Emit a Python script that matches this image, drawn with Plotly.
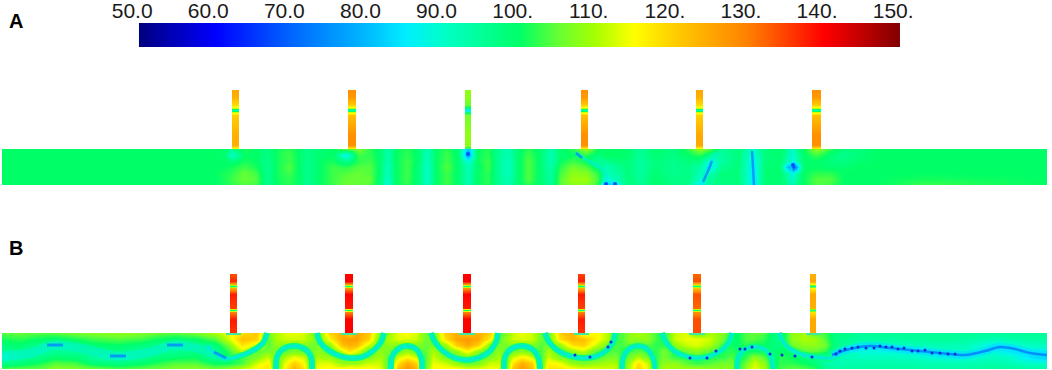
import numpy as np
import plotly.graph_objects as go

W, H = 1052, 370
ROWS = [36, 30, 24, 18, 12, 6, 0]

A_X = [2,215,224,232,244,256,267,278,289,298,307,320,333,346,358,370,380,387,396,407,418,427,436,447,458,468,477,488,497,508,518,528,540,550,560,573,586,598,606,616,628,640,655,672,688,700,710,722,738,753,765,780,793,803,816,830,843,858,880,925,1047]
A_COLS = [
[100,100,100,100,100,100,100],[100,100,100,100,100,100,100],[100,99,100,100,101,101,101],[96,90,98,101,102,103,102],
[101,100,101,103,105,105,104],[100,100,100,101,103,104,103],[97,97,96,96,96,96,96],[101,101,101,101,101,101,100],
[102,103,103,104,103,102,102],[100,100,100,100,100,100,100],[96,97,96,96,96,96,95],[99,99,100,100,100,100,100],
[100,100,101,103,103,103,103],[104,86,96,102,104,105,105],[106,103,102,104,105,105,105],[102,102,103,104,104,105,104],
[99,99,99,99,99,98,98],[93,93,92,91,91,90,88],[100,100,100,100,100,100,100],[102,102,103,103,103,103,102],
[99,99,99,98,98,98,98],[92,91,91,90,90,90,91],[100,100,100,100,100,100,100],[102,103,103,104,103,103,103],
[98,99,99,99,99,99,99],[80,76,88,92,92,92,92],[100,100,100,99,100,100,100],[102,102,103,103,102,102,102],
[96,96,96,96,96,96,96],[92,92,91,91,91,92,92],[99,99,99,99,99,99,99],[102,103,104,104,104,104,102],
[99,99,99,99,99,99,99],[93,92,92,93,94,94,95],[99,99,100,102,103,104,104],[102,100,103,106,108,109,108],
[108,102,100,104,107,109,107],[100,98,94,98,102,103,102],[100,100,96,92,92,88,78],[100,100,98,95,94,92,86],
[99,99,98,98,98,98,98],[95,95,94,94,94,95,95],[99,99,98,98,99,99,100],[97,97,96,96,96,97,97],
[102,100,98,97,97,97,96],[108,102,97,93,92,90,84],[104,96,88,86,92,95,96],[95,94,94,96,98,98,97],
[98,98,98,98,98,98,98],[90,88,86,85,85,85,85],[98,98,98,99,99,99,99],[100,99,99,99,99,99,99],
[92,90,88,66,88,92,94],[100,99,99,99,100,100,100],[108,103,100,100,102,104,104],[102,99,98,99,102,104,103],
[98,96,97,99,100,100,100],[98,98,99,100,100,100,100],[100,100,100,100,100,100,100],[100,100,100,100,100,101,103],
[100,100,100,100,100,100,100],
]

B_X = [2,20,40,55,75,95,118,140,160,175,195,215,228,242,256,268,276,285,294,303,312,317,330,342,349,356,368,380,388,398,407,416,425,433,445,456,467,478,490,499,505,513,522,532,541,548,560,572,583,596,608,616,622,630,638,647,656,663,675,687,697,710,722,732,738,746,754,764,773,780,792,805,815,825,835,860,900,940,965,993,1010,1030,1047]
B_COLS = [
[104,101,98,95,90,96,104],[105,102,99,96,94,98,105],[104,100,96,94,96,101,105],[104,99,92,95,99,104,108],
[106,101,96,95,98,103,107],[107,103,99,96,94,98,106],[108,104,100,97,92,97,104],[107,103,98,95,95,99,105],
[105,100,96,95,98,102,106],[104,99,92,95,99,104,107],[106,100,96,97,100,104,108],[110,104,98,95,94,100,106],
[114,112,106,102,100,100,108],[118,122,118,112,103,103,112],[121,120,112,104,106,112,116],[106,104,104,106,112,116,118],
[110,110,108,106,104,103,103],[113,112,107,104,110,114,116],[114,112,106,106,114,120,124],[113,112,107,104,112,116,118],
[108,108,106,105,104,103,104],[104,104,106,108,110,113,115],[120,116,108,104,108,113,116],[124,125,122,112,104,108,116],
[118,126,124,118,106,108,118],[125,126,123,114,104,108,117],[122,120,112,104,106,112,116],[106,104,106,108,110,112,114],
[108,110,108,106,104,103,103],[114,113,107,105,112,118,122],[115,113,106,108,116,124,128],[113,112,107,105,112,120,124],
[106,106,105,104,103,103,104],[104,104,106,110,112,114,116],[120,118,108,104,106,112,116],[124,125,120,108,104,108,116],
[120,127,125,116,106,104,114],[124,125,120,108,104,106,114],[120,116,106,104,106,112,115],[104,104,106,108,110,112,114],
[106,108,106,105,104,103,103],[112,112,107,105,112,118,122],[114,113,106,107,116,124,127],[112,112,107,105,112,120,122],
[105,105,104,103,103,103,104],[104,104,106,110,112,116,118],[120,118,108,104,106,114,118],[124,123,118,108,103,108,116],
[112,122,120,112,104,106,114],[116,116,112,104,103,108,114],[110,110,105,103,106,110,112],[102,102,103,104,106,110,112],
[104,104,103,102,102,102,103],[108,108,105,103,106,110,112],[110,108,103,104,110,118,120],[108,108,104,103,106,112,114],
[103,103,102,102,102,102,104],[100,100,102,106,106,108,110],[112,112,108,102,102,108,110],[113,114,112,106,102,104,110],
[104,114,113,108,102,102,110],[110,112,110,104,101,104,108],[108,106,103,101,102,106,108],[100,100,100,102,104,106,108],
[100,100,100,100,100,100,102],[104,104,102,100,102,106,108],[105,104,100,100,108,112,114],[104,102,100,100,104,108,110],
[98,98,98,98,98,98,100],[96,96,97,100,102,102,103],[108,108,106,100,100,102,105],[110,110,108,104,98,100,104],
[104,109,108,105,96,98,102],[103,104,106,102,94,94,96],[97,97,97,95,92,92,94],[95,94,91,88,91,93,94],
[95,94,91,88,91,93,94],[95,95,92,90,88,92,94],[95,94,92,90,88,92,94],[95,92,86,88,91,93,95],
[95,93,88,85,90,92,95],[95,94,91,86,84,90,94],[95,94,91,86,80,90,94],
]

# Stub positions along the duct (left, right) and pressure profile along height
STUB_H = [95, 88, 80, 77, 76, 75, 74, 73, 70, 50, 40, 37, 36]
A_STUB_X = [[232,239],[348,356],[465,471],[581,588],[696,703],[812,821]]
A_STUBS = [
[125,124,118,112,100,92,100,112,120,124,124,116,112],
[128,127,120,112,100,92,100,112,122,128,128,118,112],
[108,108,105,98,90,84,90,98,106,108,108,102,100],
[128,127,120,112,100,92,100,112,122,128,128,118,112],
[125,124,118,112,100,92,100,112,120,125,125,116,112],
[128,127,120,112,100,92,100,112,122,128,128,118,112],
]
B_STUB_H = [95, 88, 85, 84, 83, 82, 81, 75, 61, 60, 59, 58, 57, 50, 36]
B_STUB_X = [[230,237],[345,353],[463,471],[578,585],[693,701],[810,816]]
B_STUBS = [
[134,137,125,110,98,110,125,138,135,112,98,112,130,138,136],
[140,140,128,112,100,112,128,140,138,114,100,114,130,140,140],
[140,140,128,112,100,112,128,140,138,114,100,114,130,140,140],
[135,138,125,110,98,110,125,138,135,112,98,112,130,138,136],
[132,134,122,110,98,110,122,134,132,112,98,112,128,134,134],
[124,125,116,106,96,106,116,125,124,108,96,108,118,125,125],
]

# Nodal arcs of panel B (position, height)
B_ARC_X = [
[207,213,223,243,257,263,267],[276,277,283,294,305,311,312],[317,320,328,340,350,362,374,381,384],
[391,392,398,407,416,421,422],[431,435,443,455,466,478,490,496,498],[504,505,511,522,532,538,540],
[545,549,557,570,583,597,608,613,615],[622,623,629,638,647,653,655],[662,666,674,685,697,710,722,729,732],
[737,738,744,753,764,771,773],[779,783,790,800,815,825,832,840],
]
B_ARC_Y = [
[24,17,10,14,21,26,36],[0,12,20,23,20,12,0],[36,27,19,13,11,12,19,27,36],
[0,12,20,23,20,12,0],[36,27,18,11,9,11,18,27,36],[0,12,20,23,20,12,0],
[36,27,19,13,11,13,20,27,36],[0,11,20,23,20,11,0],[36,27,18,13,11,13,19,27,36],
[0,11,19,22,20,12,0],[36,27,20,15,12,11,11,16],
]
B_NOTCH_X = [[226,241],[341,357],[459,475],[574,589],[689,705],[806,820]]
B_NOTCH_Y = [[35,35],[35,35],[35,35],[35,35],[35,35],[35,35]]
B_WAVE_X = [2,30,55,85,118,150,175,200,214]
B_WAVE_Y = [13,16,24,20,13,17,24,20,15]
B_WAKE_X = [832,840,850,870,890,910,930,950,965,985,1000,1015,1030,1047]
B_WAKE_Y = [14,17,20,23,21,19,17,15,14,18,22,20,16,14]
B_SPOT_X = [[47,63],[110,126],[167,183],[214,226]]
B_SPOT_Y = [[24,24],[13,13],[24,24],[17,11]]
B_SPECK_X = [836,840,845,852,858,866,874,880,886,892,898,904,912,918,925,932,940,948,955,611,608,575,590,716,740,690,707,745,752,770,782,795,812]
B_SPECK_Y = [15,18,20,21,22,21,21,23,22,22,20,21,18,18,19,16,16,15,15,27,22,14,12,18,20,11,11,20,22,15,14,13,12]
A_BLUE_X = [[712,708,703],[752,753,754],[576,582]]
A_BLUE_Y = [[24,14,3],[34,18,0],[32,27]]
A_CYAN_X = [[575,590,603,606,606],[718,712,705,703],[790,791,792]]
A_CYAN_Y = [[33,23,15,8,0],[33,25,13,0],[36,18,0]]
A_SPOT_X = [606,615,468,793]
A_SPOT_Y = [1,1,31,20]

CB_VALUES = list(range(50, 151))
CB_TICKS = [50, 60, 70, 80, 90, 100, 110, 120, 130, 140, 150]
CB_TEXT = ["50.0", "60.0", "70.0", "80.0", "90.0", "100.", "110.", "120.", "130.", "140.", "150."]
CB_STOPS = [50, 60, 70, 80, 85, 90, 100, 105, 110, 115, 120, 130, 140, 150]
CB_COLORS = ["#00007f", "#0000ff", "#0066ff", "#00bbff", "#00eeff", "#00ffc8", "#00ff66", "#66ff33",
             "#a8ff00", "#ffff00", "#ffd000", "#ff8000", "#ff0000", "#800000"]
SCALE = [[(s - 50) / 100, c] for s, c in zip(CB_STOPS, CB_COLORS)]


def pad(v):
    v = [float(a) for a in v]
    step = 0.01 if v[1] > v[0] else -0.01
    return [v[0]] + [v[0] + step] + v[1:-1] + [v[-1] - step, v[-1]]


def band(xs, cols, xa, ya):
    z = np.array(cols, dtype=float).T
    z = np.vstack([z[0], z, z[-1]])
    z = np.column_stack([z[:, 0], z, z[:, -1]])
    return go.Heatmap(x=pad(xs), y=pad(ROWS), z=z, colorscale=SCALE, zmin=50, zmax=150, zsmooth="best",
                      showscale=False, hoverinfo="skip", xaxis=xa, yaxis=ya)


def stub(xr, hs, vals, xa, ya):
    z = np.column_stack([vals, vals])
    z = np.vstack([z[0], z, z[-1]])
    return go.Heatmap(x=[xr[0], xr[0] + 0.01, xr[1] - 0.01, xr[1]], y=pad(hs),
                      z=np.column_stack([z[:, 0], z, z[:, 1]]), colorscale=SCALE, zmin=50, zmax=150,
                      zsmooth="best", showscale=False, hoverinfo="skip", xaxis=xa, yaxis=ya)


def line(x, y, color, width, xa, ya, spline=True, opacity=1):
    return go.Scatter(x=x, y=y, mode="lines", opacity=opacity, hoverinfo="skip", showlegend=False,
                      line=dict(color=color, width=width, shape="spline" if spline else "linear"),
                      xaxis=xa, yaxis=ya)


fig = go.Figure()
fig.add_trace(band(A_X, A_COLS, "x", "y"))
fig.add_trace(band(B_X, B_COLS, "x2", "y2"))
for xr, v in zip(A_STUB_X, A_STUBS):
    fig.add_trace(stub(xr, STUB_H, v, "x", "y"))
for xr, v in zip(B_STUB_X, B_STUBS):
    fig.add_trace(stub(xr, B_STUB_H, v, "x2", "y2"))

for x, y in zip(A_CYAN_X, A_CYAN_Y):
    fig.add_trace(line(x, y, "#00f0e0", 3, "x", "y", opacity=0.6))
for x, y in zip(A_BLUE_X, A_BLUE_Y):
    fig.add_trace(line(x, y, "#0088ff", 2.5, "x", "y", opacity=0.8))
fig.add_trace(go.Scatter(x=A_SPOT_X, y=A_SPOT_Y, mode="markers", hoverinfo="skip", showlegend=False,
                         marker=dict(color="#0050ff", size=4), xaxis="x", yaxis="y"))

for x, y in zip(B_ARC_X, B_ARC_Y):
    fig.add_trace(line(x, y, "#00ff88", 6, "x2", "y2"))
    fig.add_trace(line(x, y, "#00ecd0", 3, "x2", "y2"))
for x, y in zip(B_NOTCH_X, B_NOTCH_Y):
    fig.add_trace(line(x, y, "#40e8a0", 2, "x2", "y2", spline=False))
fig.add_trace(line(B_WAVE_X, B_WAVE_Y, "#00f0e0", 9, "x2", "y2", opacity=0.45))
fig.add_trace(line(B_WAKE_X, B_WAKE_Y, "#00e0ff", 8, "x2", "y2", opacity=0.7))
fig.add_trace(line(B_WAKE_X, B_WAKE_Y, "#0080ff", 2.5, "x2", "y2", opacity=0.85))
for x, y in zip(B_SPOT_X, B_SPOT_Y):
    fig.add_trace(line(x, y, "#0088ff", 3, "x2", "y2", spline=False, opacity=0.8))
fig.add_trace(go.Scatter(x=B_SPECK_X, y=B_SPECK_Y, mode="markers", hoverinfo="skip", showlegend=False,
                         marker=dict(color="#0030e0", size=3), xaxis="x2", yaxis="y2"))

cb_z = [CB_VALUES[0]] + CB_VALUES + [CB_VALUES[-1]]
fig.add_trace(go.Heatmap(x=pad(CB_VALUES), y=[0, 0.01, 0.99, 1], z=[cb_z, cb_z, cb_z, cb_z], colorscale=SCALE,
                         zmin=50, zmax=150, zsmooth="best", showscale=False, hoverinfo="skip",
                         xaxis="x3", yaxis="y3"))

hidden = dict(visible=False, fixedrange=True)
label_offset = 0.9
px_per_unit = (900 - 139) / 100
fig.update_layout(
    width=W, height=H, margin=dict(l=0, r=0, t=0, b=0), paper_bgcolor="white", plot_bgcolor="rgba(0,0,0,0)",
    showlegend=False,
    xaxis=dict(range=[0, W], domain=[0, 1], anchor="y", **hidden),
    yaxis=dict(range=[0, 95], domain=[1 - 185 / H, 1 - 90 / H], anchor="x", **hidden),
    xaxis2=dict(range=[0, W], domain=[0, 1], anchor="y2", **hidden),
    yaxis2=dict(range=[0, 95], domain=[1 - 369 / H, 1 - 274 / H], anchor="x2", **hidden),
    xaxis3=dict(range=[40, 160], domain=[(139 - 10 * px_per_unit) / W, (900 + 10 * px_per_unit) / W], anchor="y3",
                side="top", showgrid=False, zeroline=False,
                showline=False, ticks="", tickmode="array", tickvals=[t - label_offset for t in CB_TICKS],
                ticktext=CB_TEXT, tickangle=0, tickfont=dict(family="Liberation Sans", size=21, color="#1a1a1a"),
                fixedrange=True),
    yaxis3=dict(range=[0, 1], domain=[1 - 47 / H, 1 - 23 / H], anchor="x3", **hidden),
    annotations=[
        dict(text="<b>A</b>", x=16 / W, y=1 - 21 / H, xref="paper", yref="paper", showarrow=False,
             xanchor="center", yanchor="middle", font=dict(family="Liberation Sans", size=20, color="black")),
        dict(text="<b>B</b>", x=16 / W, y=1 - 248 / H, xref="paper", yref="paper", showarrow=False,
             xanchor="center", yanchor="middle", font=dict(family="Liberation Sans", size=20, color="black")),
    ],
)
fig.write_html("out.html", config=dict(displayModeBar=False),
               post_script="document.body.style.margin='0';document.documentElement.style.overflow='hidden';")
